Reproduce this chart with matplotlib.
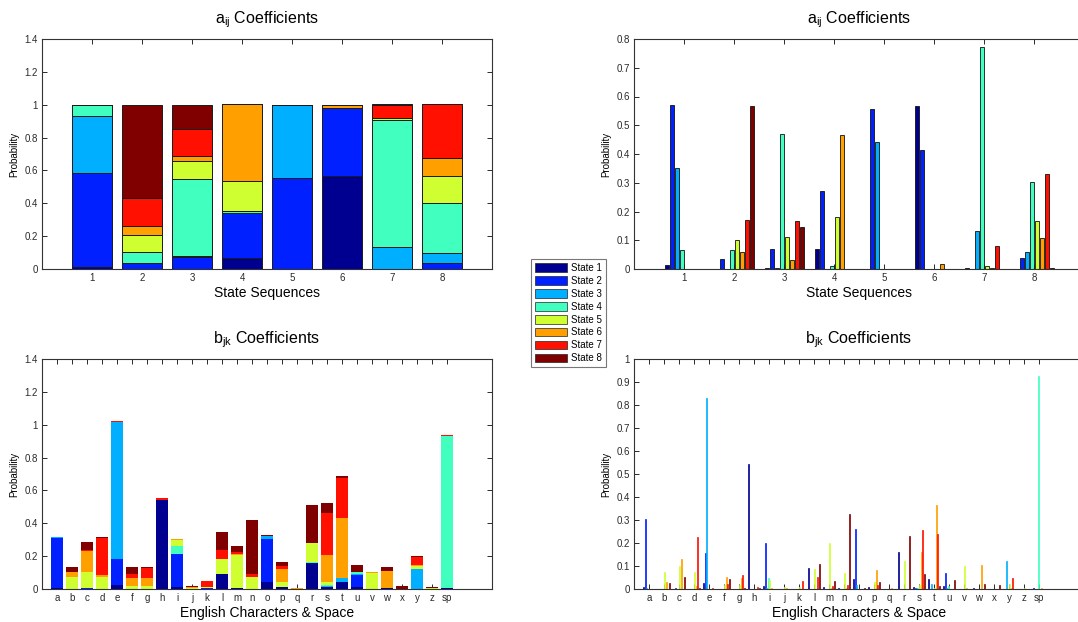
import numpy as np
import matplotlib
matplotlib.use("Agg")
import matplotlib.pyplot as plt
from matplotlib.patches import Patch

plt.rcParams["font.family"] = ["Liberation Sans", "DejaVu Sans"]
plt.rcParams["mathtext.fontset"] = "custom"
plt.rcParams["mathtext.rm"] = "Liberation Sans"

# ===================== Data =====================
state_names = ["State 1", "State 2", "State 3", "State 4",
               "State 5", "State 6", "State 7", "State 8"]
state_colors = ["#000090", "#0020ff", "#00afff", "#40ffbf",
                "#cfff30", "#ff9f00", "#ff1000", "#800000"]

seq_labels = ["1", "2", "3", "4", "5", "6", "7", "8"]

# a_ij: probability of going to state j (one list per state) from sequence i
a_state1 = [0.013, 0.000, 0.003, 0.070, 0.000, 0.568, 0.002, 0.000]
a_state2 = [0.569, 0.036, 0.069, 0.272, 0.556, 0.414, 0.000, 0.038]
a_state3 = [0.351, 0.000, 0.005, 0.000, 0.443, 0.000, 0.133, 0.059]
a_state4 = [0.067, 0.067, 0.468, 0.012, 0.001, 0.000, 0.773, 0.303]
a_state5 = [0.000, 0.102, 0.110, 0.182, 0.000, 0.000, 0.012, 0.166]
a_state6 = [0.000, 0.059, 0.032, 0.467, 0.000, 0.018, 0.002, 0.108]
a_state7 = [0.000, 0.170, 0.168, 0.000, 0.000, 0.000, 0.079, 0.329]
a_state8 = [0.000, 0.566, 0.145, 0.000, 0.000, 0.000, 0.001, 0.002]

char_labels = ["a", "b", "c", "d", "e", "f", "g", "h", "i", "j", "k", "l", "m",
               "n", "o", "p", "q", "r", "s", "t", "u", "v", "w", "x", "y", "z", "sp"]

# b_jk: emission probability of each character for each state
#            a      b      c      d      e      f      g      h      i      j      k      l      m
#            n      o      p      q      r      s      t      u      v      w      x      y      z      sp
b_state1 = [0.008, 0.000, 0.002, 0.000, 0.027, 0.000, 0.000, 0.543, 0.015, 0.000, 0.002, 0.092, 0.007,
            0.003, 0.045, 0.010, 0.002, 0.160, 0.010, 0.042, 0.015, 0.000, 0.005, 0.002, 0.000, 0.000, 0.004]
b_state2 = [0.303, 0.000, 0.003, 0.000, 0.158, 0.000, 0.000, 0.000, 0.198, 0.000, 0.002, 0.000, 0.000,
            0.000, 0.262, 0.000, 0.000, 0.000, 0.004, 0.002, 0.070, 0.000, 0.000, 0.000, 0.000, 0.000, 0.000]
b_state3 = [0.006, 0.000, 0.000, 0.000, 0.832, 0.000, 0.000, 0.000, 0.003, 0.000, 0.000, 0.000, 0.000,
            0.000, 0.018, 0.000, 0.000, 0.000, 0.006, 0.020, 0.005, 0.000, 0.000, 0.000, 0.120, 0.002, 0.000]
b_state4 = [0.002, 0.002, 0.000, 0.000, 0.000, 0.000, 0.000, 0.000, 0.046, 0.000, 0.000, 0.000, 0.000,
            0.000, 0.000, 0.000, 0.000, 0.002, 0.004, 0.002, 0.012, 0.000, 0.000, 0.000, 0.000, 0.000, 0.925]
b_state5 = [0.000, 0.073, 0.099, 0.072, 0.000, 0.018, 0.016, 0.000, 0.037, 0.009, 0.008, 0.089, 0.201,
            0.068, 0.000, 0.031, 0.000, 0.120, 0.018, 0.003, 0.000, 0.098, 0.000, 0.000, 0.022, 0.004, 0.000]
b_state6 = [0.000, 0.030, 0.130, 0.013, 0.000, 0.052, 0.050, 0.000, 0.006, 0.005, 0.000, 0.002, 0.003,
            0.005, 0.000, 0.081, 0.006, 0.000, 0.163, 0.365, 0.000, 0.003, 0.104, 0.000, 0.004, 0.002, 0.005]
b_state7 = [0.000, 0.000, 0.002, 0.225, 0.006, 0.022, 0.061, 0.009, 0.000, 0.000, 0.034, 0.054, 0.013,
            0.017, 0.000, 0.016, 0.000, 0.000, 0.256, 0.240, 0.002, 0.002, 0.002, 0.000, 0.050, 0.001, 0.002]
b_state8 = [0.000, 0.028, 0.052, 0.006, 0.000, 0.044, 0.006, 0.003, 0.000, 0.002, 0.002, 0.108, 0.036,
            0.328, 0.003, 0.029, 0.001, 0.232, 0.064, 0.014, 0.040, 0.000, 0.022, 0.019, 0.002, 0.002, 0.000]

a_states = [a_state1, a_state2, a_state3, a_state4, a_state5, a_state6, a_state7, a_state8]
b_states = [b_state1, b_state2, b_state3, b_state4, b_state5, b_state6, b_state7, b_state8]


# ===================== Plot helpers =====================
def style_axes(ax, xlim, ylim, ystep, xticks, xticklabels):
    ax.set_xlim(*xlim)
    ax.set_ylim(*ylim)
    yt = np.round(np.arange(ylim[0], ylim[1] + ystep / 2, ystep), 3)
    ax.set_yticks(yt)
    ax.set_yticklabels([f"{v:g}" for v in yt])
    ax.set_xticks(xticks)
    ax.set_xticklabels(xticklabels)
    ax.tick_params(direction="in", length=3.5, width=0.7, labelsize=7,
                   top=True, right=True, pad=3, colors="#2a2a2a")
    for sp in ax.spines.values():
        sp.set_linewidth(0.8)
        sp.set_color("#333333")
    ax.set_ylabel("Probability", fontsize=7, labelpad=4)


def stacked(ax, series, edge, lw):
    x = np.arange(1, len(series[0]) + 1)
    bottom = np.zeros(len(x))
    for vals, col in zip(series, state_colors):
        ax.bar(x, vals, width=0.8, bottom=bottom, color=col,
               edgecolor=edge, linewidth=lw, zorder=2)
        bottom += np.array(vals)


def grouped(ax, series, width, edge, lw):
    x = np.arange(1, len(series[0]) + 1)
    n = len(series)
    for k, (vals, col) in enumerate(zip(series, state_colors)):
        off = (k - (n - 1) / 2) * 0.1
        ec = col if edge is None else edge
        ax.bar(x + off, vals, width=width, color=col,
               edgecolor=ec, linewidth=lw, zorder=2)


# ===================== Figure =====================
fig = plt.figure(figsize=(10.78, 6.22), dpi=100)

W, H = 1078, 622
def pos(x0, x1, y0, y1):
    return [x0 / W, 1 - y1 / H, (x1 - x0) / W, (y1 - y0) / H]

ax_tl = fig.add_axes(pos(42, 492, 39, 269))
ax_tr = fig.add_axes(pos(634, 1084, 39, 269))
ax_bl = fig.add_axes(pos(42, 492, 359, 589))
ax_br = fig.add_axes(pos(634, 1084, 359, 589))

seq_x = np.arange(1, len(seq_labels) + 1)
char_x = np.arange(1, len(char_labels) + 1)

a_title = r"a$_{\mathregular{ij}}$ Coefficients"
b_title = r"b$_{\mathregular{jk}}$ Coefficients"

# a_ij stacked
stacked(ax_tl, a_states, "#1a1a1a", 0.7)
style_axes(ax_tl, (0, 9), (0, 1.4), 0.2, seq_x, seq_labels)

# a_ij grouped
grouped(ax_tr, a_states, 0.08, "#111111", 0.6)
style_axes(ax_tr, (0, 9), (0, 0.8), 0.1, seq_x, seq_labels)

# b_jk stacked
stacked(ax_bl, b_states, "none", 0)
style_axes(ax_bl, (0, 30), (0, 1.4), 0.2, char_x, char_labels)

# b_jk grouped
grouped(ax_br, b_states, 0.09, None, 0.5)
style_axes(ax_br, (0, 30), (0, 1.0), 0.1, char_x, char_labels)

for ax, t in [(ax_tl, a_title), (ax_tr, a_title), (ax_bl, b_title), (ax_br, b_title)]:
    ax.set_title(t, fontsize=11.5, pad=11)
for ax in (ax_tl, ax_tr):
    ax.set_xlabel("State Sequences", fontsize=10, labelpad=2)
for ax in (ax_bl, ax_br):
    ax.set_xlabel("English Characters & Space", fontsize=10, labelpad=2)

# Legend
handles = [Patch(facecolor=c, edgecolor="#222222", linewidth=0.5, label=n)
           for c, n in zip(state_colors, state_names)]
leg = fig.legend(handles=handles, loc="upper left",
                 bbox_to_anchor=(531 / W, 1 - 259 / H),
                 fontsize=7, frameon=True, fancybox=False,
                 handlelength=3.3, handleheight=1.0, handletextpad=0.4,
                 labelspacing=0.3, borderpad=0.4, borderaxespad=0)
leg.get_frame().set_edgecolor("#555555")
leg.get_frame().set_linewidth(0.8)

fig.savefig("out.png", dpi=100)
